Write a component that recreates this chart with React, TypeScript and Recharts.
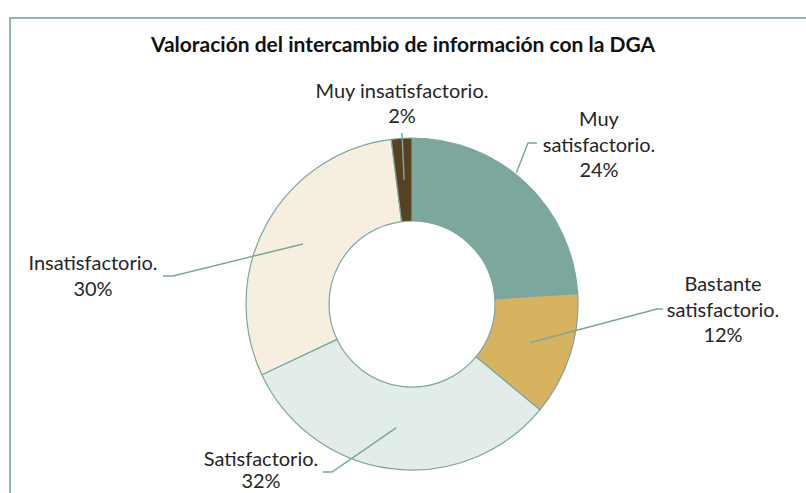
import React from 'react';
import { PieChart, Pie, Cell } from 'recharts';

const categories = [
  'Muy satisfactorio.',
  'Bastante satisfactorio.',
  'Satisfactorio.',
  'Insatisfactorio.',
  'Muy insatisfactorio.',
];
const percentages = [24, 12, 32, 30, 2];
const colors = ['#7BA79D', '#D7B25F', '#E2ECE8', '#F6EFDF', '#574120'];

const TITLE = 'Valoración del intercambio de información con la DGA';
const FONT = 'Lato, "Open Sans", sans-serif';
const LINE_COLOR = '#7BA79D';
const RADIAN = Math.PI / 180;

// manual label placement (Excel-style moved labels), relative to pie centre; ty = baselines
const labelLayout = [
  { wrap: 1, tx: 187, ty: [-178, -152, -127], elbow: [116, -161], end: [125, -161], anchorR: 1.02, angleShift: 4.7 },
  { wrap: 1, tx: 311, ty: [-13, 13, 38], elbow: [245, 5], end: [251, 5], anchorR: 0.5, angleShift: 0 },
  { wrap: 0, tx: -151, ty: [162, 184], elbow: [-80, 168], end: [-89, 168], anchorR: 0.5, angleShift: 0 },
  { wrap: 0, tx: -319, ty: [-34, -8], elbow: [-239, -28], end: [-249, -28], anchorR: 0.5, angleShift: 0 },
  { wrap: 0, tx: -10, ty: [-206, -181], elbow: [-10, -171], end: [-10, -171], anchorR: 0.5, angleShift: 0 },
];

const chartData = categories.map((name, i) => ({ name, value: percentages[i] }));

const renderLabel = (props: any) => {
  const { cx, cy, midAngle, innerRadius, outerRadius, index, name, value } = props;
  const lay = labelLayout[index];
  const r = innerRadius + (outerRadius - innerRadius) * lay.anchorR;
  const ang = -(midAngle + lay.angleShift) * RADIAN;
  const ax = cx + r * Math.cos(ang);
  const ay = cy + r * Math.sin(ang);

  const words = String(name).split(' ');
  const lines = lay.wrap
    ? [words.slice(0, lay.wrap).join(' '), words.slice(lay.wrap).join(' '), `${value}%`]
    : [String(name), `${value}%`];

  return (
    <g>
      <polyline
        points={`${ax},${ay} ${cx + lay.elbow[0]},${cy + lay.elbow[1]} ${cx + lay.end[0]},${cy + lay.end[1]}`}
        fill="none"
        stroke={LINE_COLOR}
        strokeWidth={1.5}
      />
      {lines.map((t, i) => (
        <text
          key={i}
          x={cx + lay.tx}
          y={cy + lay.ty[i]}
          textAnchor="middle"
          fill="#262626"
          fontSize={20}
          fontFamily={FONT}
        >
          {t}
        </text>
      ))}
    </g>
  );
};

export default function App() {
  return (
    <div
      style={{
        position: 'absolute',
        left: 0,
        top: 0,
        width: 806,
        height: 493,
        overflow: 'hidden',
        background: '#ffffff',
      }}
    >
      <div
        style={{
          position: 'absolute',
          left: 9,
          top: 17,
          width: 830,
          height: 520,
          border: '2px solid #8DB8AE',
        }}
      />
      <div
        style={{
          position: 'absolute',
          left: 0,
          top: 31,
          width: 806,
          textAlign: 'center',
          fontFamily: FONT,
          fontWeight: 700,
          fontSize: 21,
          lineHeight: '26px',
          color: '#111',
        }}
      >
        {TITLE}
      </div>
      <div style={{ position: 'absolute', left: 0, top: 0 }}>
        <PieChart width={806} height={493} margin={{ top: 0, right: 0, bottom: 0, left: 0 }}>
          <Pie
            data={chartData}
            dataKey="value"
            nameKey="name"
            cx={412}
            cy={304}
            innerRadius={83}
            outerRadius={166}
            startAngle={90}
            endAngle={-270}
            stroke={LINE_COLOR}
            strokeWidth={1.2}
            label={renderLabel}
            labelLine={false}
            isAnimationActive={false}
          >
            {chartData.map((d, i) => (
              <Cell key={d.name} fill={colors[i]} />
            ))}
          </Pie>
        </PieChart>
      </div>
    </div>
  );
}
